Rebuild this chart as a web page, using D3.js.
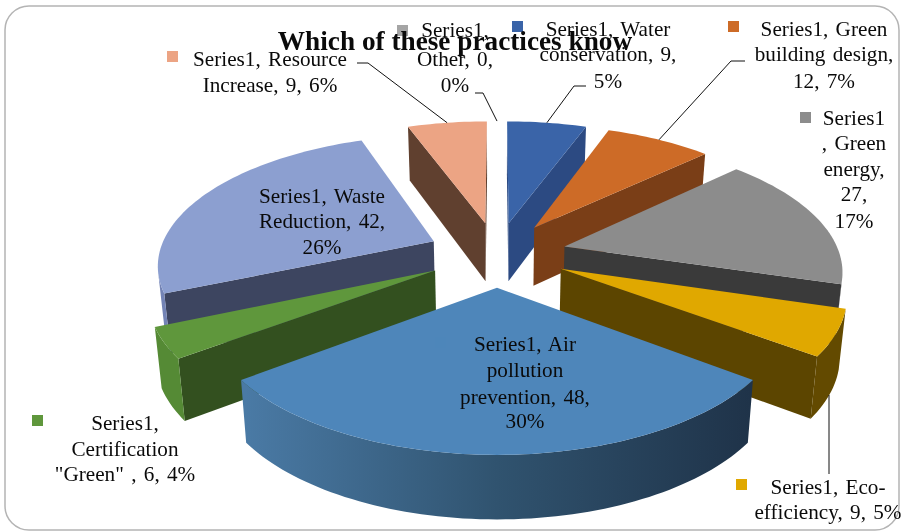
<!DOCTYPE html>
<html><head><meta charset="utf-8">
<script src="https://cdn.jsdelivr.net/npm/d3@7/dist/d3.min.js"></script>
<style>html,body{margin:0;padding:0;background:#fff}svg{display:block;filter:blur(0.6px)}text{font-family:"Liberation Serif",serif;fill:#0a0a0a}</style>
</head><body><svg id="c" width="902" height="532"></svg>
<script>
const title = "Which of these practices know";
const categories = ["Water conservation","Green building design","Green energy","Eco-efficiency","Air pollution prevention","Certification \"Green\"","Waste Reduction","Resource Increase","Other"];
const values = [9,12,27,9,48,6,42,9,0];
const percents = [5,7,17,5,30,4,26,6,0];
const topColors = ["#3a64a8","#cd6b27","#8c8c8c","#e0a800","#4e86ba","#5f973c","#8c9fd0","#eca484","#a5a5a5"];
const wallColors = ["#2c4a82","#7a3e17","#3a3a3a","#5c4500","#2f5070","#33501f","#3d4560","#60402f","#555555"];
const arcColors  = ["#2c4a82","#7a3e17","#3a3a3a","#634a00","url(#airWall)","#558a35","#7383b5","#60402f","#555555"];
const drawOrder = [7,0,1,2,6,3,5,4];

const labelLines = [
 ["Series1, Water","conservation, 9,","5%"],
 ["Series1, Green","building design,","12, 7%"],
 ["Series1",", Green","energy,","27,","17%"],
 ["Series1, Eco-","efficiency, 9, 5%"],
 ["Series1, Air","pollution","prevention, 48,","30%"],
 ["Series1,","Certification","\"Green\" , 6, 4%"],
 ["Series1, Waste","Reduction, 42,","26%"],
 ["Series1, Resource","Increase, 9, 6%"],
 ["Series1,","Other, 0,","0%"]];
const labelCx = [608,824,854,828,525,125,322,270,455];
const labelBase = [[36,61,88],[36,61,88],[125,150,176,201,228],[494,519],[351,377,404,428],[430,456,481],[203,228,254],[66,92],[37,66,92]];
const keyPos = [[512,21],[728,21],[800,112],[736,479],[435,337],[32,415],[233,190],[167,51],[397,25]];
const leaderStart = {0:[[586,86],[574,86]],1:[[745,61],[731,61]],7:[[357,63],[368,63]],8:[[475,93],[483,93]]};

const svg = d3.select("#c");
const cx=497, cy=254, R=275, explode=70, k=0.00059, tilt=0.4638;
const defs = svg.append("defs");
const g = defs.append("linearGradient").attr("id","airWall").attr("gradientUnits","userSpaceOnUse")
  .attr("x1",245).attr("x2",750).attr("y1",0).attr("y2",0);
[[0,"#4a7aa5"],[0.5,"#30536f"],[1,"#1f3349"]].forEach(s=>g.append("stop").attr("offset",s[0]).attr("stop-color",s[1]));

svg.append("rect").attr("x",5).attr("y",6).attr("width",894).attr("height",524).attr("rx",24)
  .attr("fill","#fff").attr("stroke","#b4b4b4").attr("stroke-width",1.5);

const pie = d3.pie().sort(null).value(d=>d).startAngle(0).endAngle(2*Math.PI);
const arcs = pie(values);
const line = d3.line();
function proj(X,Y,bottom){
  const s=1/(1+k*Y), sx=X*s, sy=-Y*tilt*s;
  return bottom ? [cx+sx*0.98, cy+sy+(59-0.016*Y)] : [cx+sx, cy+sy];
}
function wall(A,B){return [proj(A[0],A[1]),proj(B[0],B[1]),proj(B[0],B[1],true),proj(A[0],A[1],true)];}

function slice(i){
  const a=arcs[i], mid=(a.startAngle+a.endAngle)/2;
  const ox=explode*Math.sin(mid), oy=explode*Math.cos(mid);
  const steps=d3.range(0,1.0001,1/Math.max(2,Math.round((a.endAngle-a.startAngle)*40)));
  const plane=steps.map(t=>{const th=a.startAngle+t*(a.endAngle-a.startAngle);return [ox+R*Math.sin(th),oy+R*Math.cos(th)];});
  const apex=[ox,oy];
  const grp=svg.append("g");
  [[apex,plane[0]],[plane[plane.length-1],apex]].forEach(e=>{
    const q=wall(e[0],e[1]);
    if(d3.polygonArea(q)>0) grp.append("path").attr("d",line(q)+"Z").attr("fill",wallColors[i]);
  });
  let run=[];
  const flush=()=>{
    if(run.length>1){
      const poly=[...run.map(p=>proj(p[0],p[1])),...run.slice().reverse().map(p=>proj(p[0],p[1],true))];
      grp.append("path").attr("d",line(poly)+"Z").attr("fill",arcColors[i]);
    }
    run=[];
  };
  for(let j=0;j<plane.length-1;j++){
    const q=wall(plane[j],plane[j+1]);
    if(d3.polygonArea(q)>0){ if(!run.length) run.push(plane[j]); run.push(plane[j+1]); }
    else flush();
  }
  flush();
  const top=[apex,...plane].map(p=>proj(p[0],p[1]));
  grp.append("path").attr("d",line(top)+"Z").attr("fill",topColors[i]);
}
drawOrder.forEach(slice);

function arcMid(i){
  const a=arcs[i], mid=(a.startAngle+a.endAngle)/2;
  return proj((explode+R)*Math.sin(mid),(explode+R)*Math.cos(mid));
}
const leaders=svg.append("g").attr("fill","none").attr("stroke","#111").attr("stroke-width",1);
Object.keys(leaderStart).forEach(i=>{
  leaders.append("path").attr("d",line([...leaderStart[i],arcMid(+i)]));
});
leaders.append("path").attr("d",line([[829,395],[829,474]]));

keyPos.forEach((p,i)=>svg.append("rect").attr("x",p[0]).attr("y",p[1]).attr("width",11).attr("height",11)
  .attr("fill",topColors[i]).attr("opacity",i===6||i===4?0.85:1));

svg.append("text").attr("text-anchor","middle").attr("font-weight","bold").attr("font-size",27)
  .attr("transform","translate(455,50) scale(1.01,1)").text(title);

labelLines.forEach((lines,i)=>{
  lines.forEach((t,j)=>{
    svg.append("text").attr("text-anchor","middle").attr("font-size",21).attr("word-spacing",2)
      .attr("transform",`translate(${labelCx[i]},${labelBase[i][j]}) scale(1.01,1)`).text(t);
  });
});
</script></body></html>
